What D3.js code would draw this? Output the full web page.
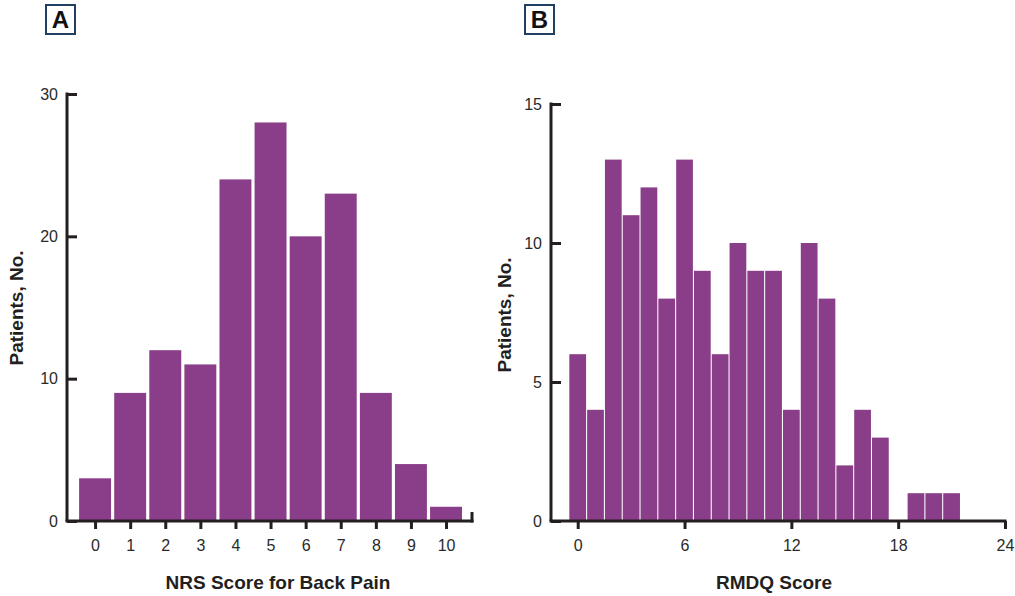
<!DOCTYPE html>
<html lang="en">
<head>
  <meta charset="UTF-8">
  <title>NRS and RMDQ histograms</title>
  <script src="https://d3js.org/d3.v7.min.js"></script>
  <style>
    body {
      margin: 0;
      background: #fff;
      font-family: "Liberation Sans", Arial, sans-serif;
    }
    .bar {
      fill: #8a3d89;
    }
    .axis path, .axis line {
      stroke: #231f20;
      stroke-width: 3;
    }
    .axis text {
      font-size: 16px;
      fill: #2a2a2a;
      font-family: "Liberation Sans", Arial, sans-serif;
    }
    .title {
      font-size: 19px;
      font-weight: bold;
      fill: #231f20;
    }
    .panel-box {
      fill: none;
      stroke: #1f3f63;
      stroke-width: 2;
    }
    .panel-letter {
      font-size: 24px;
      font-weight: bold;
      fill: #111;
    }
  </style>
</head>
<body>
  <svg width="1015" height="596"></svg>
  <script>
    // Panel A: NRS score for back pain
    const nrsScores = [0, 1, 2, 3, 4, 5, 6, 7, 8, 9, 10];
    const nrsCounts = [3, 9, 12, 11, 24, 28, 20, 23, 9, 4, 1];
    const nrsYTicks = [0, 10, 20, 30];

    // Panel B: RMDQ score
    const rmdqScores = [0, 1, 2, 3, 4, 5, 6, 7, 8, 9, 10, 11, 12, 13, 14, 15, 16, 17, 18, 19, 20, 21];
    const rmdqCounts = [6, 4, 13, 11, 12, 8, 13, 9, 6, 10, 9, 9, 4, 10, 8, 2, 4, 3, 0, 1, 1, 1];
    const rmdqXTicks = [0, 6, 12, 18, 24];
    const rmdqYTicks = [0, 5, 10, 15];

    const svg = d3.select("svg");
    const baseY = 521;

    function panel(opts) {
      const g = svg.append("g");
      const x = d3.scaleLinear().domain(opts.xDomain).range(opts.xRange);
      const y = d3.scaleLinear().domain(opts.yDomain).range([baseY, opts.yTop]);

      g.selectAll(".bar")
        .data(opts.counts.map((c, i) => ({ v: opts.scores[i], c })).filter(d => d.c > 0))
        .enter()
        .append("rect")
        .attr("class", "bar")
        .attr("x", d => x(d.v - opts.half))
        .attr("width", d => x(d.v + opts.half) - x(d.v - opts.half))
        .attr("y", d => y(d.c))
        .attr("height", d => baseY - y(d.c));

      g.append("g")
        .attr("class", "axis")
        .attr("transform", `translate(0,${baseY})`)
        .call(d3.axisBottom(x).tickValues(opts.xTicks).tickSize(8).tickSizeOuter(0).tickPadding(11))
        .select(".domain").attr("d", `M${opts.xRange[0] - 1.5},0H${opts.xRange[1] + 1.5}`);

      g.append("g")
        .attr("class", "axis")
        .attr("transform", `translate(${opts.xRange[0]},0)`)
        .call(d3.axisLeft(y).tickValues(opts.yTicks).tickSize(-10).tickSizeOuter(0).tickPadding(9))
        .select(".domain").attr("d", `M0,${y(opts.yDomain[1]) - 1.5}V${baseY}`);

      if (opts.endTick) {
        g.append("line")
          .attr("x1", opts.xRange[1]).attr("x2", opts.xRange[1])
          .attr("y1", baseY - 9).attr("y2", baseY + 1.5)
          .attr("stroke", "#231f20").attr("stroke-width", 3);
      }

      g.append("text")
        .attr("class", "title")
        .attr("x", opts.xTitleX).attr("y", 589)
        .attr("text-anchor", "middle")
        .text(opts.xTitle);

      g.append("text")
        .attr("class", "title")
        .attr("transform", `translate(${opts.yTitleX},${opts.yTitleY}) rotate(-90)`)
        .attr("text-anchor", "middle")
        .text("Patients, No.");

      g.append("rect")
        .attr("class", "panel-box")
        .attr("x", opts.boxX).attr("y", 5)
        .attr("width", 29).attr("height", 29);
      g.append("text")
        .attr("class", "panel-letter")
        .attr("x", opts.boxX + 14.5).attr("y", 28)
        .attr("text-anchor", "middle")
        .text(opts.letter);
    }

    panel({
      scores: nrsScores, counts: nrsCounts,
      xDomain: [-0.8, 10.74], xRange: [67, 472],
      yDomain: [0, 30], yTop: 94,
      xTicks: nrsScores, yTicks: nrsYTicks,
      half: 0.455, endTick: true,
      xTitle: "NRS Score for Back Pain", xTitleX: 278,
      yTitleX: 23, yTitleY: 308,
      boxX: 46, letter: "A"
    });

    panel({
      scores: rmdqScores, counts: rmdqCounts,
      xDomain: [-1.5, 24], xRange: [551, 1005],
      yDomain: [0, 15], yTop: 104,
      xTicks: rmdqXTicks, yTicks: rmdqYTicks,
      half: 0.47, endTick: false,
      xTitle: "RMDQ Score", xTitleX: 774,
      yTitleX: 511, yTitleY: 315,
      boxX: 525, letter: "B"
    });
  </script>
</body>
</html>
